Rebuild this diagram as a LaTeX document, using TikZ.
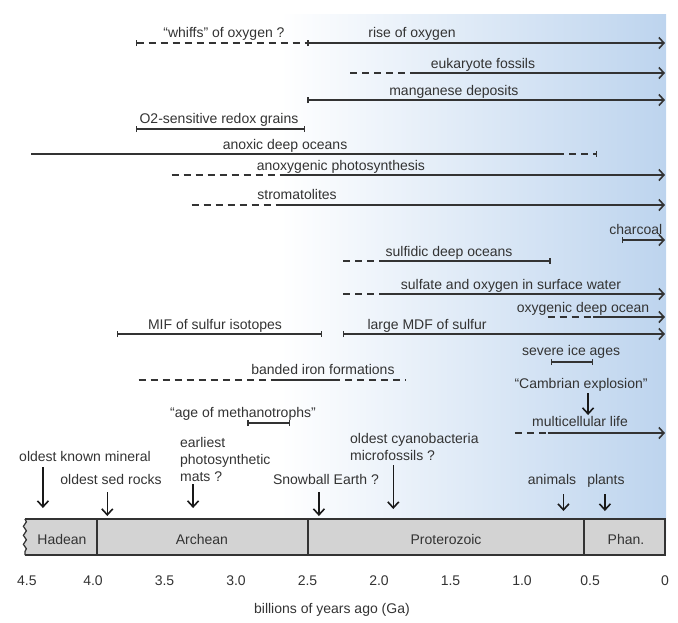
\documentclass[tikz,border=0pt]{standalone}
\usepackage{fontspec}
\setmainfont{Liberation Sans}
\usepackage{tikz}
\usetikzlibrary{arrows.meta,decorations.pathmorphing}
\definecolor{linegray}{RGB}{51,51,51}
\definecolor{txtgray}{RGB}{51,51,51}
\definecolor{bargray}{RGB}{211,211,211}
\definecolor{bgblue}{RGB}{189,212,238}
\tikzset{
	lbl/.style={text=txtgray, font=\fontsize{14}{17}\selectfont, inner sep=0pt, anchor=base},
	span/.style={draw=linegray, line width=1.3pt},
	dashspan/.style={span, dash pattern=on 7pt off 5pt},
	bartip/.tip={Bar[width=6pt,line width=1.1pt]},
	nowtip/.tip={Straight Barb[length=5pt,width=11pt,line width=1.6pt]},
	downarrow/.style={draw=black!90, line width=1.5pt, -{Straight Barb[length=6pt,width=11pt,line width=1.6pt]}}
}
\begin{document}
\begin{tikzpicture}[x={(-143pt,0pt)}, y={(0pt,-1pt)}]
	\useasboundingbox (4.6503,0) rectangle (-0.0909,622);
	\shade[left color=white, right color=bgblue] (2.69,14) rectangle (-0.007,540);
	\draw[dashspan, bartip-] (3.70,43) -- (2.5,43) node[lbl] (whiffs) at (3.084,37) {``whiffs'' of oxygen ?};
	\draw[span, bartip-nowtip] (2.5,43) -- (0,43) node[lbl] (rise) at (1.769,37) {rise of oxygen};
	\draw[dashspan] (2.2,73) -- (1.8,73);
	\draw[span, -nowtip] (1.783,73) -- (0,73) node[lbl] (eukaryote) at (1.273,68) {eukaryote fossils};
	\draw[span, bartip-nowtip] (2.5,100) -- (0,100) node[lbl] (manganese) at (1.476,95) {manganese deposits};
	\draw[span, bartip-bartip] (3.70,129) -- (2.517,129) node[lbl] (grains) at (3.119,123) {O2-sensitive redox grains};
	\draw[span] (4.43,154) -- (0.755,154) node[lbl] (anoxic) at (2.657,149) {anoxic deep oceans};
	\draw[dashspan, -bartip] (0.755,154) -- (0.475,154);
	\draw[dashspan] (3.45,175) -- (2.64,175);
	\draw[span, -nowtip] (2.64,175) -- (0,175) node[lbl] (anoxygenic) at (2.266,170) {anoxygenic photosynthesis};
	\draw[dashspan] (3.31,205) -- (2.68,205);
	\draw[span, -nowtip] (2.68,205) -- (0,205) node[lbl] (stromatolites) at (2.573,199) {stromatolites};
	\draw[span, bartip-nowtip] (0.30,240) -- (0,240) node[lbl, anchor=base east] (charcoal) at (0.014,234) {charcoal};
	\draw[dashspan] (2.25,261) -- (1.98,261);
	\draw[span, -bartip] (1.98,261) -- (0.80,261) node[lbl] (sulfidic) at (1.510,256) {sulfidic deep oceans};
	\draw[dashspan] (2.25,294) -- (1.98,294);
	\draw[span, -nowtip] (1.98,294) -- (0,294) node[lbl] (sulfate) at (1.077,289) {sulfate and oxygen in surface water};
	\draw[dashspan] (0.82,317) -- (0.50,317);
	\draw[span, -nowtip] (0.50,317) -- (0,317) node[lbl] (oxydeep) at (0.573,312) {oxygenic deep ocean};
	\draw[span, bartip-nowtip] (2.25,334) -- (0,334) node[lbl] (mdf) at (1.664,329) {large MDF of sulfur};
	\draw[span, bartip-bartip] (3.83,334) -- (2.40,334) node[lbl] (mif) at (3.147,329) {MIF of sulfur isotopes};
	\draw[span, bartip-bartip] (0.80,362) -- (0.50,362) node[lbl] (ice) at (0.657,355) {severe ice ages};
	\draw[dashspan] (3.68,380) -- (2.71,380);
	\draw[span] (2.71,380) -- (2.32,380) node[lbl] (bif) at (2.392,374) {banded iron formations};
	\draw[dashspan] (2.32,380) -- (1.81,380);
	\node[lbl] (cambrian) at (0.587,388) {``Cambrian explosion''};
	\draw[downarrow] (0.538,393) -- (0.538,415);
	\draw[dashspan] (1.05,433) -- (0.82,433);
	\draw[span, -nowtip] (0.82,433) -- (0,433) node[lbl] (multicellular) at (0.594,426) {multicellular life};
	\draw[span, bartip-bartip] (2.92,423) -- (2.62,423) node[lbl] (methanotrophs) at (2.951,417) {``age of methanotrophs''};
	\node[lbl, anchor=base west, align=left] (mats) at (3.392,481) {earliest\\photosynthetic\\mats ?};
	\draw[downarrow] (3.30,484) -- (3.30,508);
	\node[lbl] (mineral) at (4.056,461) {oldest known mineral};
	\draw[downarrow] (4.35,467) -- (4.35,508);
	\node[lbl] (sedrocks) at (3.874,484) {oldest sed rocks};
	\draw[downarrow] (3.90,492) -- (3.90,516);
	\node[lbl] (snowball) at (2.371,484) {Snowball Earth ?};
	\draw[downarrow] (2.42,492) -- (2.42,516);
	\node[lbl, anchor=base west, align=left] (cyano) at (2.203,460) {oldest cyanobacteria\\microfossils ?};
	\draw[downarrow] (1.90,465) -- (1.90,509);
	\node[lbl] (animals) at (0.790,484) {animals};
	\draw[downarrow] (0.71,494) -- (0.71,511);
	\node[lbl] (plants) at (0.413,484) {plants};
	\draw[downarrow] (0.42,494) -- (0.42,511);
	\fill[bargray] (4.476,519) rectangle (0,555);
	\draw[linegray, line width=1.5pt] (4.476,519) -- (0,519) -- (0,555) -- (4.476,555);
	\draw[linegray, line width=1.2pt, decorate, decoration={snake, segment length=9pt, amplitude=1.5pt}] (4.476,519) -- (4.476,555);
	\draw[linegray, line width=2pt] (3.974,519) -- (3.974,555) (2.497,519) -- (2.497,555) (0.565,519) -- (0.565,555);
	\node[lbl] (hadean) at (4.217,544) {Hadean};
	\node[lbl] (archean) at (3.238,544) {Archean};
	\node[lbl] (proterozoic) at (1.531,544) {Proterozoic};
	\node[lbl] (phan) at (0.273,544) {Phan.};
	\foreach \t/\v [count=\i] in {4.462/4.5, 4.0/4.0, 3.5/3.5, 3.0/3.0, 2.5/2.5, 2.0/2.0, 1.5/1.5, 1.0/1.0, 0.524/0.5, 0/0}
		\node[lbl] (ga\i) at (\t,585) {\v};
	\node[lbl] (axis) at (2.329,613) {billions of years ago (Ga)};
\end{tikzpicture}
\end{document}
